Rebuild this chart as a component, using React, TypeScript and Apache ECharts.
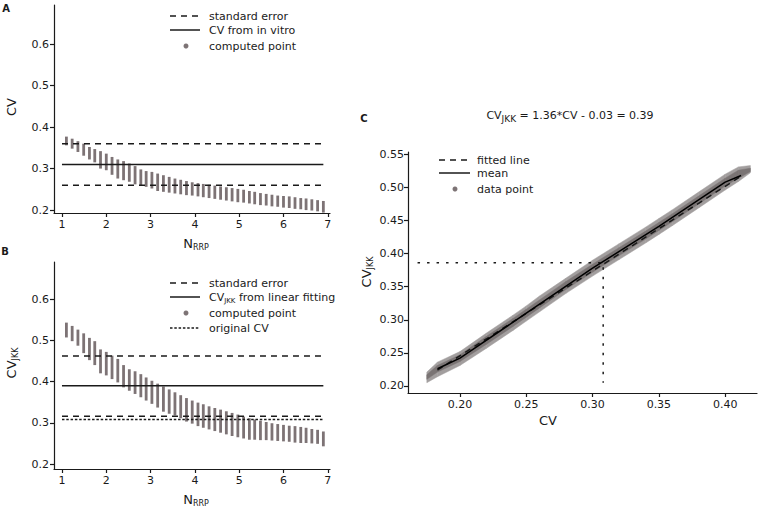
import React, { useEffect, useRef } from "react";
import * as echarts from "echarts";

// ---------- Panels A & B: N_RRP strips ----------
const N_VALUES = [1.10, 1.23, 1.36, 1.49, 1.62, 1.74, 1.87, 2.00, 2.13, 2.26, 2.39, 2.52, 2.65, 2.78, 2.90, 3.03, 3.16, 3.29, 3.42, 3.55, 3.68, 3.81, 3.94, 4.07, 4.19, 4.32, 4.45, 4.58, 4.71, 4.84, 4.97, 5.10, 5.23, 5.35, 5.48, 5.61, 5.74, 5.87, 6.00, 6.13, 6.26, 6.39, 6.51, 6.64, 6.77, 6.90];
const A_HIGH = [0.377, 0.372, 0.366, 0.360, 0.352, 0.347, 0.342, 0.336, 0.328, 0.322, 0.318, 0.312, 0.306, 0.298, 0.294, 0.292, 0.288, 0.284, 0.280, 0.276, 0.273, 0.270, 0.267, 0.265, 0.263, 0.261, 0.259, 0.257, 0.255, 0.253, 0.251, 0.249, 0.246, 0.244, 0.241, 0.239, 0.237, 0.235, 0.234, 0.233, 0.231, 0.229, 0.228, 0.226, 0.224, 0.222];
const A_LOW = [0.356, 0.348, 0.340, 0.331, 0.322, 0.315, 0.300, 0.296, 0.285, 0.276, 0.272, 0.268, 0.262, 0.258, 0.256, 0.252, 0.246, 0.244, 0.242, 0.240, 0.238, 0.236, 0.235, 0.233, 0.231, 0.229, 0.227, 0.225, 0.223, 0.221, 0.219, 0.218, 0.216, 0.214, 0.212, 0.211, 0.209, 0.208, 0.206, 0.205, 0.203, 0.202, 0.200, 0.199, 0.197, 0.194];
const B_HIGH = [0.543, 0.535, 0.526, 0.517, 0.506, 0.498, 0.478, 0.472, 0.463, 0.455, 0.440, 0.430, 0.425, 0.418, 0.410, 0.402, 0.395, 0.388, 0.381, 0.374, 0.367, 0.360, 0.354, 0.349, 0.345, 0.340, 0.336, 0.332, 0.328, 0.324, 0.320, 0.315, 0.311, 0.308, 0.305, 0.302, 0.299, 0.297, 0.295, 0.293, 0.292, 0.290, 0.288, 0.285, 0.283, 0.279];
const B_LOW = [0.507, 0.498, 0.487, 0.469, 0.452, 0.440, 0.420, 0.415, 0.406, 0.398, 0.386, 0.378, 0.370, 0.362, 0.354, 0.346, 0.337, 0.327, 0.322, 0.318, 0.311, 0.303, 0.298, 0.292, 0.288, 0.284, 0.280, 0.276, 0.272, 0.268, 0.265, 0.262, 0.259, 0.259, 0.258, 0.258, 0.257, 0.256, 0.255, 0.254, 0.252, 0.251, 0.251, 0.250, 0.249, 0.243];

const N_TICKS = [1, 2, 3, 4, 5, 6, 7];
const AB_Y_TICKS = [0.2, 0.3, 0.4, 0.5, 0.6];
const REF_LINE_X = [1.0, 6.9];

const A_SE_UPPER = 0.36;
const A_SE_LOWER = 0.26;
const A_CV_VITRO = 0.31;
const B_SE_UPPER = 0.462;
const B_SE_LOWER = 0.316;
const B_CV_JKK = 0.39;
const B_ORIG_CV = 0.308;

// ---------- Panel C: CV vs CV_JKK ----------
const C_BAND_X = [0.175, 0.183, 0.20, 0.22, 0.24, 0.25, 0.26, 0.28, 0.30, 0.32, 0.34, 0.35, 0.36, 0.38, 0.40, 0.41, 0.419];
const C_OUTER_LOW = [0.205, 0.214, 0.231, 0.257, 0.284, 0.298, 0.312, 0.340, 0.366, 0.391, 0.416, 0.429, 0.442, 0.469, 0.496, 0.509, 0.522];
const C_OUTER_HIGH = [0.221, 0.236, 0.252, 0.280, 0.307, 0.321, 0.336, 0.363, 0.390, 0.415, 0.440, 0.453, 0.466, 0.493, 0.520, 0.531, 0.533];
const C_INNER_LOW = [0.210, 0.221, 0.237, 0.263, 0.290, 0.304, 0.318, 0.346, 0.372, 0.397, 0.422, 0.435, 0.448, 0.475, 0.502, 0.514, 0.524];
const C_INNER_HIGH = [0.217, 0.231, 0.247, 0.275, 0.302, 0.316, 0.330, 0.358, 0.384, 0.409, 0.434, 0.447, 0.460, 0.487, 0.514, 0.526, 0.529];
const C_MEAN_X = [0.183, 0.20, 0.25, 0.30, 0.35, 0.40, 0.412];
const C_MEAN_Y = [0.226, 0.242, 0.310, 0.378, 0.441, 0.508, 0.518];
const C_FIT_X = [0.183, 0.412];
const C_FIT_Y = [0.224, 0.517];
const C_REF_CV = 0.308;
const C_REF_CVJKK = 0.386;
const C_REF_XSTART = 0.168;
const C_REF_YEND = 0.205;
const C_X_TICKS = [0.20, 0.25, 0.30, 0.35, 0.40];
const C_Y_TICKS = [0.20, 0.25, 0.30, 0.35, 0.40, 0.45, 0.50, 0.55];

const FONT = "DejaVu Sans";
const INK = "#1a1a1a";
const POINT = "#7d7375";
const C_CORE = "#7a7474";
const C_EDGE = "#a29e9e";

function axisCommon(ticks: number[], digits: number, margin: number) {
  return {
    type: "value" as const,
    axisLine: { show: true, onZero: false, lineStyle: { color: INK, width: 1.2 } },
    axisTick: { show: true, length: 4, customValues: ticks, lineStyle: { color: INK, width: 1.2 } },
    axisLabel: {
      customValues: ticks,
      fontSize: 11,
      color: INK,
      fontFamily: FONT,
      margin,
      formatter: (v: number) => v.toFixed(digits),
    },
    splitLine: { show: false },
  };
}

function stripSeries(grid: number, lo: number[], hi: number[]) {
  return {
    type: "custom",
    xAxisIndex: grid,
    yAxisIndex: grid,
    data: N_VALUES.map((x, i) => [x, lo[i], hi[i]]),
    encode: { x: 0, y: [1, 2] },
    renderItem: (params: any, api: any) => {
      const top = api.coord([api.value(0), api.value(2)]);
      const bot = api.coord([api.value(0), api.value(1)]);
      return {
        type: "rect",
        shape: { x: top[0] - 1.4, y: top[1], width: 2.8, height: bot[1] - top[1] },
        style: { fill: POINT },
      };
    },
    z: 2,
  };
}

function hLine(grid: number, y: number, type: any) {
  return {
    type: "line",
    xAxisIndex: grid,
    yAxisIndex: grid,
    data: REF_LINE_X.map((x) => [x, y]),
    symbol: "none",
    lineStyle: { color: INK, width: 1.5, type },
    z: 5,
  };
}

function bandSeries(lo: number[], hi: number[], color: string) {
  return {
    type: "custom",
    xAxisIndex: 2,
    yAxisIndex: 2,
    data: C_BAND_X.map((x, i) => [x, lo[i], hi[i]]),
    encode: { x: 0, y: [1, 2] },
    renderItem: (params: any, api: any) => {
      const i = params.dataIndex;
      if (i >= C_BAND_X.length - 1) return null;
      const p1 = api.coord([C_BAND_X[i], lo[i]]);
      const p2 = api.coord([C_BAND_X[i + 1], lo[i + 1]]);
      const p3 = api.coord([C_BAND_X[i + 1], hi[i + 1]]);
      const p4 = api.coord([C_BAND_X[i], hi[i]]);
      return {
        type: "polygon",
        shape: { points: [p1, p2, p3, p4] },
        style: { fill: color, stroke: color, lineWidth: 0.5 },
      };
    },
    z: 2,
  };
}

const RICH = {
  n: { fontSize: 13, fontFamily: FONT, color: INK },
  s: { fontSize: 8, fontFamily: FONT, color: INK, padding: [9, 0, 0, 0] },
  l: { fontSize: 11, fontFamily: FONT, color: INK },
  ls: { fontSize: 7, fontFamily: FONT, color: INK, padding: [7, 0, 0, 0] },
  t: { fontSize: 11, fontFamily: FONT, color: INK },
  ts: { fontSize: 9, fontFamily: FONT, color: INK, padding: [8, 0, 0, 0] },
};

function label(x: number, y: number, text: string, opts: any = {}) {
  return {
    type: "text",
    x,
    y,
    rotation: opts.rotation || 0,
    style: {
      text,
      rich: RICH,
      align: opts.align || "center",
      verticalAlign: "middle",
      fontSize: opts.fontSize || 13,
      fontWeight: opts.fontWeight || "normal",
      fontFamily: FONT,
      fill: INK,
    },
  };
}

function legendLine(x1: number, x2: number, y: number, dash: any) {
  return {
    type: "line",
    shape: { x1, y1: y, x2, y2: y },
    style: { stroke: INK, lineWidth: 1.5, lineDash: dash },
  };
}

function legendDot(x: number, y: number) {
  return { type: "circle", shape: { cx: x, cy: y, r: 2.5 }, style: { fill: POINT } };
}

function legendText(x: number, y: number, text: string) {
  return {
    type: "text",
    x,
    y,
    style: { text, rich: RICH, align: "left", verticalAlign: "middle", fontSize: 11, fontFamily: FONT, fill: INK },
  };
}

export default function App() {
  const ref = useRef<HTMLDivElement>(null);
  useEffect(() => {
    if (!ref.current) return;
    const chart = echarts.init(ref.current, null, { renderer: "svg" });
    const option: any = {
      animation: false,
      grid: [
        { left: 54, top: 5, width: 276, height: 208 },
        { left: 54, top: 262, width: 276, height: 207 },
        { left: 408, top: 152, width: 349, height: 241 },
      ],
      xAxis: [
        { ...axisCommon(N_TICKS, 0, 6), gridIndex: 0, min: 0.82, max: 7.05 },
        { ...axisCommon(N_TICKS, 0, 6), gridIndex: 1, min: 0.82, max: 7.05 },
        { ...axisCommon(C_X_TICKS, 2, 6), gridIndex: 2, min: 0.1608, max: 0.424 },
      ],
      yAxis: [
        { ...axisCommon(AB_Y_TICKS, 1, 5), gridIndex: 0, min: 0.193, max: 0.694 },
        { ...axisCommon(AB_Y_TICKS, 1, 5), gridIndex: 1, min: 0.188, max: 0.69 },
        { ...axisCommon(C_Y_TICKS, 2, 4), gridIndex: 2, min: 0.1894, max: 0.5535 },
      ],
      series: [
        stripSeries(0, A_LOW, A_HIGH),
        hLine(0, A_SE_UPPER, [6, 5]),
        hLine(0, A_SE_LOWER, [6, 5]),
        hLine(0, A_CV_VITRO, "solid"),
        stripSeries(1, B_LOW, B_HIGH),
        hLine(1, B_SE_UPPER, [6, 5]),
        hLine(1, B_SE_LOWER, [6, 5]),
        hLine(1, B_CV_JKK, "solid"),
        hLine(1, B_ORIG_CV, [2.5, 1.8]),
        bandSeries(C_OUTER_LOW, C_OUTER_HIGH, C_EDGE),
        bandSeries(C_INNER_LOW, C_INNER_HIGH, C_CORE),
        {
          type: "line",
          xAxisIndex: 2,
          yAxisIndex: 2,
          data: C_FIT_X.map((x, i) => [x, C_FIT_Y[i]]),
          symbol: "none",
          lineStyle: { color: INK, width: 1.5, type: [6, 5] },
          z: 5,
        },
        {
          type: "line",
          xAxisIndex: 2,
          yAxisIndex: 2,
          data: C_MEAN_X.map((x, i) => [x, C_MEAN_Y[i]]),
          symbol: "none",
          lineStyle: { color: "#000", width: 1.5 },
          z: 6,
        },
        {
          type: "line",
          xAxisIndex: 2,
          yAxisIndex: 2,
          data: [[C_REF_XSTART, C_REF_CVJKK], [C_REF_CV, C_REF_CVJKK], [C_REF_CV, C_REF_YEND]],
          symbol: "none",
          lineStyle: { color: INK, width: 1.5, type: [2.5, 7] },
          z: 4,
        },
      ],
      graphic: [
        label(6, 8, "A", { fontSize: 10, fontWeight: "bold" }),
        label(5, 251, "B", { fontSize: 10, fontWeight: "bold" }),
        label(364, 118, "C", { fontSize: 10, fontWeight: "bold" }),
        label(196, 243, "{n|N}{s|RRP}"),
        label(196, 499, "{n|N}{s|RRP}"),
        label(548, 420, "{n|CV}"),
        label(11, 107, "{n|CV}", { rotation: Math.PI / 2 }),
        label(11, 363, "{n|CV}{s|JKK}", { rotation: Math.PI / 2 }),
        label(366, 272, "{n|CV}{s|JKK}", { rotation: Math.PI / 2 }),
        label(570, 115, "{t|CV}{ts|JKK}{t| = 1.36*CV - 0.03 = 0.39}"),
        // legend A
        legendLine(170, 200, 16, [6, 5]),
        legendText(209, 16, "{l|standard error}"),
        legendLine(170, 200, 30, null),
        legendText(209, 30, "{l|CV from in vitro}"),
        legendDot(186, 46),
        legendText(209, 46, "{l|computed point}"),
        // legend B
        legendLine(170, 200, 283, [6, 5]),
        legendText(209, 283, "{l|standard error}"),
        legendLine(170, 200, 297, null),
        legendText(209, 297, "{l|CV}{ls|JKK}{l| from linear fitting}"),
        legendDot(186, 313),
        legendText(209, 313, "{l|computed point}"),
        legendLine(170, 200, 328, [2.5, 1.8]),
        legendText(209, 328, "{l|original CV}"),
        // legend C
        legendLine(439, 470, 160, [6, 5]),
        legendText(477, 160, "{l|fitted line}"),
        legendLine(439, 470, 173, null),
        legendText(477, 173, "{l|mean}"),
        legendDot(455, 189),
        legendText(477, 189, "{l|data point}"),
      ],
    };
    chart.setOption(option);
    return () => chart.dispose();
  }, []);
  return (
    <div
      ref={ref}
      style={{ position: "fixed", left: 0, top: 0, width: 758, height: 509, background: "#fff" }}
    />
  );
}
